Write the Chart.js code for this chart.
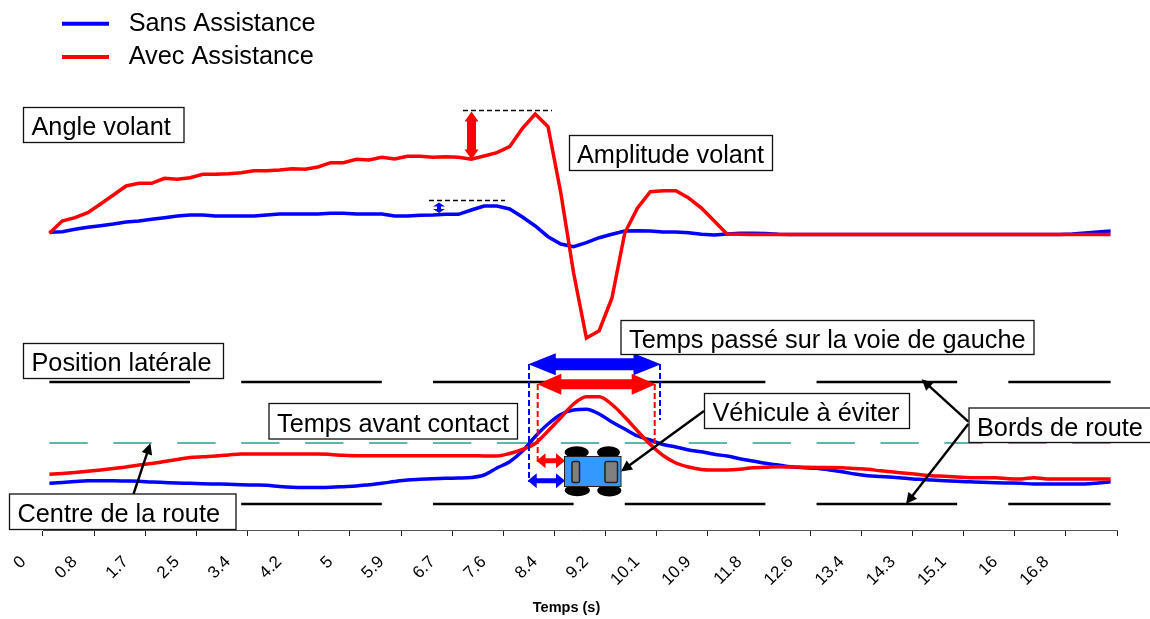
<!DOCTYPE html>
<html>
<head>
<meta charset="utf-8">
<title>Angle volant et position latérale</title>
<script src="https://cdn.jsdelivr.net/npm/chart.js@4"></script>
<style>
  html, body { margin: 0; padding: 0; background: #fff; }
  #wrap { position: relative; width: 1150px; height: 619px; }
</style>
</head>
<body>
<div id="wrap"><canvas id="chart" width="1150" height="619" role="img" aria-label="Angle volant et position latérale"></canvas></div>
<script>
const _ = null;

// time in seconds, one label every fourth sample is shown
const categories = [
  0, 0.2, 0.4, 0.6,  0.8, 1, 1.3, 1.5,  1.7, 1.9, 2.1, 2.3,  2.5, 2.8, 3, 3.2,
  3.4, 3.6, 3.8, 4,  4.2, 4.4, 4.6, 4.8,  5, 5.3, 5.5, 5.7,  5.9, 6.1, 6.3, 6.5,
  6.7, 7, 7.2, 7.4,  7.6, 7.8, 8, 8.2,  8.4, 8.6, 8.8, 9,  9.2, 9.5, 9.7, 9.9,
  10.1, 10.3, 10.5, 10.7,  10.9, 11.2, 11.4, 11.6,  11.8, 12, 12.2, 12.4,  12.6, 12.8, 13, 13.2,
  13.4, 13.7, 13.9, 14.1,  14.3, 14.5, 14.7, 14.9,  15.1, 15.4, 15.6, 15.8,  16, 16.2, 16.4, 16.6,
  16.8, 17, 17.2, 17.4
];

const angleSans = [
  297.7, 298.3, 300.7, 302.7, 304.3, 306, 308, 309, 310.7, 312.3,
  314, 315, 315, 314, 314, 314, 314, 315, 316, 316,
  316, 316, 316.7, 316.7, 316, 316, 316, 314, 314, 314.7,
  315, 315.7, 315.7, 320, 324, 324, 321, 313, 304, 293.3,
  286, 283.3, 287.3, 292.3, 295.7, 299, 299.3, 299, 298, 298,
  297.3, 295.7, 295, 296, 296.7, 296.7, 296.5, 295.8, 295.5, 295.5,
  295.5, 295.5, 295.5, 295.5, 295.5, 295.5, 295.5, 295.5, 295.5, 295.5,
  295.5, 295.5, 295.5, 295.5, 295.5, 295.5, 295.5, 295.5, 295.5, 295.5,
  296, 297, 298, 299
];

const angleAvec = [
  296.7, 309, 312.3, 317.3, 326, 335, 344, 346.7, 346.7, 351.7,
  350.7, 352.3, 355.7, 355.7, 356.3, 357.3, 359.3, 359.3, 360, 361.3,
  360.7, 363, 367.3, 367.3, 370.7, 370, 372.7, 371, 373.7, 373.7,
  372.7, 373.3, 372.7, 370.7, 374, 377.3, 383.3, 401.7, 416, 403.3,
  337, 257, 192, 199.3, 232, 297, 322, 338.3, 339.3, 339.3,
  332, 322, 309, 296, 295.7, 295.5, 295.5, 295.5, 295.5, 295.5,
  295.5, 295.5, 295.5, 295.5, 295.5, 295.5, 295.5, 295.5, 295.5, 295.5,
  295.5, 295.5, 295.5, 295.5, 295.5, 295.5, 295.5, 295.5, 295.5, 295.5,
  295.5, 295.5, 295.5, 295.5
];

const lateralSans = [
  46.7, 47.5, 48.5, 49.3, 49.3, 49.3, 49, 48.7, 48, 47.5,
  47, 46.7, 46.3, 46, 45.7, 45.3, 45, 44.7, 43.5, 42.7,
  42.5, 42.5, 42.7, 43.3, 44, 45.3, 46.7, 48.5, 50, 50.7,
  51.3, 51.7, 52, 52.5, 55, 62, 68.3, 79, 93.5, 106,
  115.5, 120, 120.7, 116, 108, 101, 94, 90, 85.5, 83,
  80, 78.3, 75.7, 74, 71.3, 69, 66.7, 65, 63.2, 62.3,
  61.7, 60, 58.3, 56, 54.3, 53.5, 52.7, 51.7, 50.7, 50,
  49.3, 48.7, 48.2, 47.7, 47.3, 47, 46.7, 46, 46, 46,
  46, 46, 47, 48.3
];

const lateralAvec = [
  55.7, 56.5, 57.5, 58.7, 60, 61.5, 63, 65, 66.5, 68.5,
  70.5, 72.5, 73.3, 74, 75, 76, 76, 76, 76, 76,
  76, 76, 75.5, 74.7, 74.3, 74.3, 74.3, 74.3, 74.3, 74.3,
  74.3, 74.3, 74.3, 74.3, 74, 74, 76.5, 80.5, 86.5, 99,
  112.5, 126, 133.3, 133.3, 125.5, 113, 99, 85.5, 74.5, 67,
  63, 60.5, 60, 60, 60.7, 62.3, 62.7, 63.3, 63, 62.7,
  62.5, 62.5, 62.3, 61.5, 60.7, 59.2, 58, 56.7, 55.5, 54.3,
  53.7, 53, 52.3, 52.3, 52.3, 51.3, 51, 52.3, 51, 51,
  51, 51, 51, 51
];

const roadTop = [
  148, 148, 148, 148, 148, 148, 148, 148, 148, 148, 148, 148, _, _, _,
  148, 148, 148, 148, 148, 148, 148, 148, 148, 148, 148, 148, _, _, _,
  148, 148, 148, 148, 148, 148, 148, 148, 148, 148, 148, 148, 148, 148, 148,
  148, 148, 148, 148, 148, 148, 148, 148, 148, 148, 148, 148, _, _, _,
  148, 148, 148, 148, 148, 148, 148, 148, 148, 148, 148, 148, _, _, _,
  148, 148, 148, 148, 148, 148, 148, 148, 148
];

const roadBottom = [
  26, 26, 26, 26, 26, 26, 26, 26, 26, 26, 26, 26, _, _, _,
  26, 26, 26, 26, 26, 26, 26, 26, 26, 26, 26, 26, _, _, _,
  26, 26, 26, 26, 26, 26, 26, 26, 26, 26, 26, 26, _, _, _,
  26, 26, 26, 26, 26, 26, 26, 26, 26, 26, 26, 26, _, _, _,
  26, 26, 26, 26, 26, 26, 26, 26, 26, 26, 26, 26, _, _, _,
  26, 26, 26, 26, 26, 26, 26, 26, 26
];

const roadCentre = [
  87, 87, 87, 87, _,  87, 87, 87, 87, _,  87, 87, 87, 87, _,  87, 87, 87, 87, _,
  87, 87, 87, 87, _,  87, 87, 87, 87, _,  87, 87, 87, 87, _,  87, 87, 87, 87, _,
  87, 87, 87, 87, _,  87, 87, 87, 87, _,  87, 87, 87, 87, _,  87, 87, 87, 87, _,
  87, 87, 87, 87, _,  87, 87, 87, 87, _,  87, 87, 87, 87, _,  87, 87, 87, 87, _,
  87, 87, 87, 87
];

const BLUE = '#0000ff';
const RED = '#ff0000';
const FONT = '"Liberation Sans", Arial, sans-serif';

// text boxes laid over the chart
const callouts = [
  {text: 'Angle volant', left: 23.5, top: 107.5, right: 184, bottom: 142.5, pad: 8},
  {text: 'Amplitude volant', left: 569.5, top: 135.5, right: 772.5, bottom: 170.5, pad: 7.5},
  {text: 'Temps passé sur la voie de gauche', left: 621, top: 320.5, right: 1034, bottom: 354.5, pad: 8},
  {text: 'Position latérale', left: 23.5, top: 343.5, right: 223.5, bottom: 378.5, pad: 8},
  {text: 'Temps avant contact', left: 269, top: 403.5, right: 517.5, bottom: 439, pad: 8},
  {text: 'Centre de la route', left: 9.5, top: 494, right: 236, bottom: 529.5, pad: 8},
  {text: 'Véhicule à éviter', left: 704.5, top: 393.5, right: 909.5, bottom: 428.5, pad: 8},
  {text: 'Bords de route', left: 969, top: 408, right: 1154, bottom: 442.5, pad: 8}
];

function doubleArrow(ctx, x1, y1, x2, y2, shaft, head, headLen, color) {
  const a = Math.atan2(y2 - y1, x2 - x1);
  const len = Math.hypot(x2 - x1, y2 - y1);
  ctx.save();
  ctx.translate(x1, y1);
  ctx.rotate(a);
  ctx.fillStyle = color;
  ctx.beginPath();
  ctx.moveTo(0, 0);
  ctx.lineTo(headLen, -head);
  ctx.lineTo(headLen, -shaft);
  ctx.lineTo(len - headLen, -shaft);
  ctx.lineTo(len - headLen, -head);
  ctx.lineTo(len, 0);
  ctx.lineTo(len - headLen, head);
  ctx.lineTo(len - headLen, shaft);
  ctx.lineTo(headLen, shaft);
  ctx.lineTo(headLen, head);
  ctx.closePath();
  ctx.fill();
  ctx.restore();
}

function pointer(ctx, x1, y1, x2, y2) {
  const a = Math.atan2(y2 - y1, x2 - x1);
  ctx.save();
  ctx.strokeStyle = '#000';
  ctx.fillStyle = '#000';
  ctx.lineWidth = 2.4;
  ctx.beginPath();
  ctx.moveTo(x1, y1);
  ctx.lineTo(x2 - 8 * Math.cos(a), y2 - 8 * Math.sin(a));
  ctx.stroke();
  ctx.translate(x2, y2);
  ctx.rotate(a);
  ctx.beginPath();
  ctx.moveTo(0, 0);
  ctx.lineTo(-11, -5.5);
  ctx.lineTo(-11, 5.5);
  ctx.closePath();
  ctx.fill();
  ctx.restore();
}

function dashedLine(ctx, x1, y1, x2, y2, color, width, dash) {
  ctx.save();
  ctx.strokeStyle = color;
  ctx.lineWidth = width;
  ctx.setLineDash(dash);
  ctx.beginPath();
  ctx.moveTo(x1, y1);
  ctx.lineTo(x2, y2);
  ctx.stroke();
  ctx.restore();
}

function drawCar(ctx) {
  ctx.save();
  ctx.fillStyle = '#000';
  [[576.7, 452.3, 12], [608.5, 452.3, 11.5], [577.3, 490.3, 12.5], [609.3, 490.5, 12]].forEach(w => {
    ctx.beginPath();
    ctx.ellipse(w[0], w[1], w[2], 6, 0, 0, Math.PI * 2);
    ctx.fill();
  });
  ctx.fillStyle = '#3399ff';
  ctx.strokeStyle = '#222';
  ctx.lineWidth = 1;
  ctx.fillRect(564.5, 456.5, 56.5, 30);
  ctx.strokeRect(564.5, 456.5, 56.5, 30);
  ctx.fillStyle = '#808080';
  ctx.lineWidth = 1.5;
  ctx.beginPath();
  ctx.roundRect(572, 461.5, 7.5, 21, 1.5);
  ctx.fill();
  ctx.stroke();
  ctx.beginPath();
  ctx.roundRect(605, 461.5, 12.5, 21, 2);
  ctx.fill();
  ctx.stroke();
  ctx.restore();
}

const overlay = {
  id: 'overlay',
  afterLayout(chart) {
    chart.legend.left = 54;
    chart.legend.top = 3;
  },
  afterDraw(chart) {
    const ctx = chart.ctx;

    dashedLine(ctx, 463, 110.5, 552, 110.5, '#000', 1.4, [5, 3]);
    dashedLine(ctx, 429, 200.5, 505, 200.5, '#000', 1.4, [5, 3]);
    doubleArrow(ctx, 471.5, 111.5, 471.5, 159.5, 4.5, 7, 10, RED);
    doubleArrow(ctx, 439, 202.5, 439, 213, 2, 6, 4, BLUE);

    dashedLine(ctx, 529, 364, 529, 482, BLUE, 2, [6, 3]);
    dashedLine(ctx, 660, 364, 660, 420, BLUE, 2, [6, 3]);
    dashedLine(ctx, 537.7, 384, 537.7, 463, RED, 2, [6, 3]);
    dashedLine(ctx, 654.7, 384, 654.7, 446, RED, 2, [6, 3]);
    doubleArrow(ctx, 528.3, 364.3, 661, 364.3, 6, 11, 27.5, BLUE);
    doubleArrow(ctx, 537.3, 384.3, 655.7, 384.3, 5, 10.5, 24, RED);
    doubleArrow(ctx, 536.5, 460.7, 565, 460.7, 2.5, 7.5, 9, RED);
    doubleArrow(ctx, 527.7, 480.7, 565, 480.7, 2.5, 7.5, 9, BLUE);
    drawCar(ctx);

    pointer(ctx, 133.5, 494, 150.4, 443.3);
    pointer(ctx, 704, 411, 621, 471.5);
    pointer(ctx, 968.3, 421.7, 921.7, 379.3);
    pointer(ctx, 968.3, 424, 906, 504);

    ctx.save();
    ctx.textBaseline = 'middle';
    ctx.textAlign = 'left';
    ctx.font = '25.3px ' + FONT;
    callouts.forEach(b => {
      ctx.fillStyle = '#fff';
      ctx.strokeStyle = '#111';
      ctx.lineWidth = 1.3;
      ctx.fillRect(b.left, b.top, b.right - b.left, b.bottom - b.top);
      ctx.strokeRect(b.left, b.top, b.right - b.left, b.bottom - b.top);
      ctx.fillStyle = '#000';
      ctx.fillText(b.text, b.left + b.pad, (b.top + b.bottom) / 2 + 3.5);
    });
    ctx.font = 'bold 14.5px ' + FONT;
    ctx.textAlign = 'center';
    ctx.fillText('Temps (s)', 566.5, 608);
    ctx.restore();
  }
};

const lineStyle = (label, data, color, order, mode) => ({
  label: label,
  data: data,
  borderColor: color,
  backgroundColor: color,
  borderWidth: 3.5,
  pointRadius: 0,
  tension: 0,
  cubicInterpolationMode: mode,
  fill: false,
  order: order
});

const edgeStyle = (label, data, color, width) => ({
  label: label,
  data: data,
  borderColor: color,
  backgroundColor: color,
  borderWidth: width,
  pointRadius: 0,
  spanGaps: false,
  fill: false,
  order: 2
});

new Chart(document.getElementById('chart'), {
  type: 'line',
  plugins: [overlay],
  data: {
    labels: categories,
    datasets: [
      lineStyle('Sans Assistance', angleSans, BLUE, 1, 'default'),
      lineStyle('Avec Assistance', angleAvec, RED, 0, 'default'),
      lineStyle('Position Sans Assistance', lateralSans, BLUE, 1, 'monotone'),
      lineStyle('Position Avec Assistance', lateralAvec, RED, 0, 'monotone'),
      edgeStyle('Bord haut', roadTop, '#000', 2.5),
      edgeStyle('Bord bas', roadBottom, '#000', 2.5),
      edgeStyle('Centre', roadCentre, '#339999', 1.5)
    ]
  },
  options: {
    responsive: false,
    animation: false,
    events: [],
    layout: {padding: {left: 43, right: 33, top: 0, bottom: 0}},
    plugins: {
      tooltip: {enabled: false},
      legend: {
        position: 'chartArea',
        align: 'start',
        labels: {
          usePointStyle: true,
          pointStyle: 'line',
          pointStyleWidth: 47,
          padding: 8,
          color: '#000',
          font: {family: FONT, size: 25.3},
          filter: item => item.datasetIndex < 2,
          sort: (a, b) => a.datasetIndex - b.datasetIndex,
          generateLabels(chart) {
            return Chart.defaults.plugins.legend.labels.generateLabels(chart).map(item => {
              item.text = '\u00A0' + item.text;
              item.lineWidth = 4;
              return item;
            });
          }
        }
      }
    },
    scales: {
      x: {
        type: 'category',
        offset: true,
        afterFit(scale) { scale.height = 89; },
        border: {display: true, color: '#555', width: 1},
        grid: {
          display: true,
          offset: true,
          drawOnChartArea: false,
          drawTicks: true,
          tickLength: 6,
          tickColor: c => (c.index === undefined || c.index % 4 === 0) ? '#222' : 'rgba(0,0,0,0)'
        },
        ticks: {
          autoSkip: false,
          minRotation: 45,
          maxRotation: 45,
          padding: 16,
          labelOffset: -26,
          color: '#000',
          font: {family: FONT, size: 17},
          callback(value, index) {
            return index % 4 === 0 ? String(categories[index]) : '';
          }
        }
      },
      y: {
        display: false,
        min: 0,
        max: 530
      }
    }
  }
});
</script>
</body>
</html>
